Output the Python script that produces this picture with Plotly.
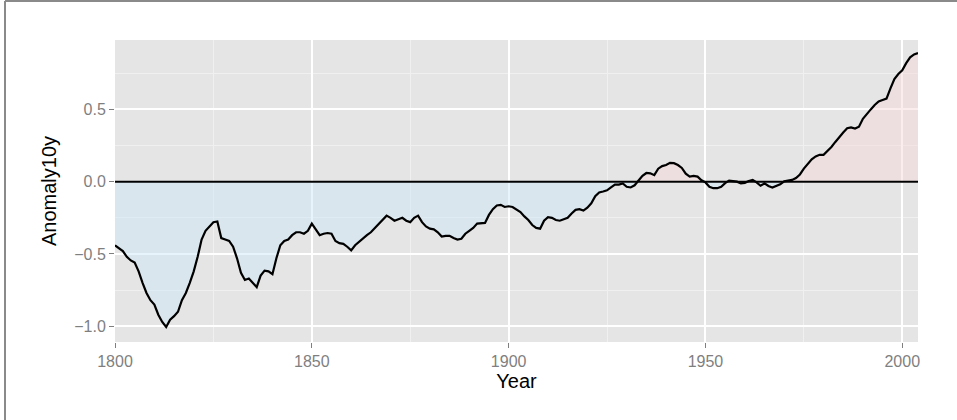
import plotly.graph_objects as go

years = list(range(1800, 2005))

anomaly10y = [
    -0.44, -0.46, -0.48, -0.52, -0.545, -0.56, -0.62, -0.70, -0.77, -0.82,   # 1800-1809
    -0.85, -0.92, -0.97, -1.005, -0.955, -0.93, -0.90, -0.82, -0.77, -0.70,  # 1810-1819
    -0.62, -0.52, -0.40, -0.34, -0.31, -0.28, -0.275, -0.39, -0.40, -0.41,   # 1820-1829
    -0.45, -0.53, -0.63, -0.68, -0.67, -0.70, -0.73, -0.65, -0.615, -0.62,   # 1830-1839
    -0.64, -0.53, -0.44, -0.41, -0.40, -0.37, -0.35, -0.35, -0.36, -0.34,    # 1840-1849
    -0.29, -0.33, -0.37, -0.36, -0.355, -0.36, -0.41, -0.425, -0.43, -0.45,  # 1850-1859
    -0.475, -0.44, -0.415, -0.39, -0.37, -0.35, -0.32, -0.29, -0.265, -0.235,  # 1860-1869
    -0.25, -0.27, -0.26, -0.25, -0.27, -0.28, -0.25, -0.235, -0.28, -0.31,   # 1870-1879
    -0.325, -0.33, -0.35, -0.38, -0.375, -0.375, -0.39, -0.40, -0.395, -0.36,  # 1880-1889
    -0.34, -0.32, -0.29, -0.285, -0.285, -0.23, -0.19, -0.165, -0.16, -0.175,  # 1890-1899
    -0.17, -0.175, -0.19, -0.21, -0.24, -0.265, -0.30, -0.32, -0.325, -0.27,   # 1900-1909
    -0.245, -0.25, -0.265, -0.27, -0.26, -0.25, -0.22, -0.195, -0.19, -0.20,   # 1910-1919
    -0.18, -0.15, -0.10, -0.075, -0.068, -0.06, -0.04, -0.02, -0.02, -0.012,   # 1920-1929
    -0.035, -0.04, -0.025, 0.005, 0.04, 0.06, 0.058, 0.045, 0.09, 0.108,       # 1930-1939
    0.115, 0.13, 0.128, 0.115, 0.095, 0.055, 0.035, 0.04, 0.035, 0.01,         # 1940-1949
    -0.005, -0.035, -0.045, -0.045, -0.035, -0.01, 0.007, 0.004, 0.0, -0.012,  # 1950-1959
    -0.008, 0.005, 0.012, -0.005, -0.028, -0.012, -0.03, -0.04, -0.028, -0.018,  # 1960-1969
    0.002, 0.008, 0.012, 0.025, 0.05, 0.09, 0.125, 0.155, 0.175, 0.186,       # 1970-1979
    0.186, 0.21, 0.24, 0.275, 0.31, 0.34, 0.37, 0.376, 0.368, 0.38,           # 1980-1989
    0.435, 0.47, 0.50, 0.53, 0.555, 0.565, 0.575, 0.645, 0.71, 0.745,         # 1990-1999
    0.77, 0.82, 0.86, 0.88, 0.89,                                             # 2000-2004
]

x_ticks = [1800, 1850, 1900, 1950, 2000]
y_ticks = [-1.0, -0.5, 0.0, 0.5]
y_tick_labels = ["\u22121.0", "\u22120.5", "0.0", "0.5"]

neg_part = [min(v, 0.0) for v in anomaly10y]
pos_part = [max(v, 0.0) for v in anomaly10y]

FONT = "Liberation Sans, Arial, Helvetica, sans-serif"

fig = go.Figure()
fig.add_trace(go.Scatter(x=years, y=neg_part, mode="lines", line=dict(width=0),
                         fill="tozeroy", fillcolor="rgba(201,231,246,0.45)",
                         hoverinfo="skip", showlegend=False))
fig.add_trace(go.Scatter(x=years, y=pos_part, mode="lines", line=dict(width=0),
                         fill="tozeroy", fillcolor="rgba(246,214,214,0.45)",
                         hoverinfo="skip", showlegend=False))
fig.add_hline(y=0, line=dict(color="black", width=2))
fig.add_trace(go.Scatter(x=years, y=anomaly10y, mode="lines",
                         line=dict(color="black", width=2.2),
                         showlegend=False))

L, R, T, B = 115, 39, 40, 78
W, H = 957, 420
pw, ph = W - L - R, H - T - B

def px_x(p):
    return (p - L) / pw

def px_y(p):
    return (H - B - p) / ph

fig.add_shape(type="line", xref="paper", yref="paper",
              x0=px_x(5), x1=px_x(5), y0=px_y(421), y1=px_y(1),
              line=dict(color="#8a8a8a", width=2))
fig.add_shape(type="line", xref="paper", yref="paper",
              x0=px_x(5), x1=px_x(958), y0=px_y(1), y1=px_y(1),
              line=dict(color="#8a8a8a", width=2))

fig.update_layout(
    width=W, height=H,
    margin=dict(l=L, r=R, t=T, b=B, autoexpand=False),
    paper_bgcolor="white",
    plot_bgcolor="#E5E5E5",
    font=dict(family=FONT, size=16, color="#7F7F7F"),
    xaxis=dict(
        range=[1800, 2004], tickvals=x_ticks, ticktext=[str(v) for v in x_ticks],
        ticks="outside", ticklen=5, tickwidth=1, tickcolor="#7F7F7F",
        showgrid=True, gridcolor="white", gridwidth=1.8,
        minor=dict(dtick=25, tick0=1800, showgrid=True, gridcolor="#F0F0F0",
                   gridwidth=0.9, ticks=""),
        zeroline=False, showline=False,
        tickfont=dict(size=16, color="#7F7F7F"),
        title=dict(text="Year", font=dict(size=20, color="black"), standoff=4),
    ),
    yaxis=dict(
        range=[-1.109, 0.98], tickvals=y_ticks, ticktext=y_tick_labels,
        ticks="outside", ticklen=5, tickwidth=1, tickcolor="#7F7F7F",
        showgrid=True, gridcolor="white", gridwidth=1.8,
        minor=dict(dtick=0.25, tick0=0, showgrid=True, gridcolor="#F0F0F0",
                   gridwidth=0.9, ticks=""),
        zeroline=False, showline=False,
        tickfont=dict(size=16, color="#7F7F7F"),
        title=dict(text="Anomaly10y", font=dict(size=20, color="black"), standoff=12),
    ),
)

fig.write_html(
    "out.html",
    config={"displayModeBar": False},
    post_script="document.body.style.margin='0';document.body.style.overflow='hidden';",
)
